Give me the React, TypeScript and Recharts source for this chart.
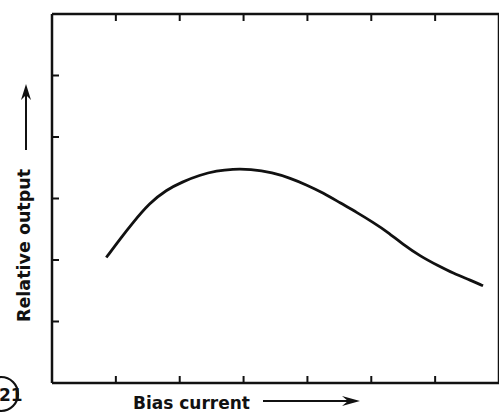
import React from "react";
import { LineChart, Line, XAxis, YAxis } from "recharts";

const biasCurrent = [0.85, 1.05, 1.26, 1.53, 1.79, 2.04, 2.31, 2.58, 2.83, 3.1, 3.46, 3.73, 3.99, 4.25, 4.51, 4.78, 5.03, 5.25, 5.5, 5.77, 6.04, 6.29, 6.56, 6.75];
const relativeOutput = [2.04, 2.32, 2.6, 2.93, 3.14, 3.27, 3.38, 3.45, 3.48, 3.48, 3.42, 3.33, 3.22, 3.09, 2.93, 2.77, 2.61, 2.46, 2.25, 2.06, 1.91, 1.78, 1.67, 1.58];
const xTicks = [1, 2, 3, 4, 5, 6];
const yTicks = [1, 2, 3, 4, 5];

const data = biasCurrent.map((x, i) => ({ x, y: relativeOutput[i] }));

const ink = "#111";
const font = "'DejaVu Sans', sans-serif";

const NoLabel = () => <g />;

const axisCommon = {
  tick: NoLabel,
  mirror: true,
  tickSize: 7,
  stroke: ink,
  strokeWidth: 2.5,
  axisLine: { stroke: ink, strokeWidth: 2.5 },
  tickLine: { stroke: ink, strokeWidth: 2 },
};

export default function App() {
  return (
    <div style={{ position: "absolute", left: 0, top: 0, width: 499, height: 416, background: "#fff" }}>
      <LineChart
        width={499}
        height={416}
        data={data}
        margin={{ top: 14, left: 52, right: 0, bottom: 33 }}
      >
        <XAxis
          dataKey="x"
          type="number"
          domain={[0, 7]}
          ticks={xTicks}
          height={1}
          {...axisCommon}
        />
        <XAxis
          xAxisId="top"
          orientation="top"
          dataKey="x"
          type="number"
          domain={[0, 7]}
          ticks={xTicks}
          height={1}
          {...axisCommon}
        />
        <YAxis
          type="number"
          domain={[0, 6]}
          ticks={yTicks}
          width={1}
          {...axisCommon}
        />
        <YAxis
          yAxisId="right"
          orientation="right"
          type="number"
          domain={[0, 6]}
          ticks={yTicks}
          width={1}
          {...axisCommon}
        />
        <Line
          dataKey="y"
          type="basis"
          stroke={ink}
          strokeWidth={2.8}
          dot={false}
          isAnimationActive={false}
        />
      </LineChart>
      <svg
        width={499}
        height={416}
        style={{ position: "absolute", left: 0, top: 0, pointerEvents: "none" }}
      >
        <text x={133} y={409} fontFamily={font} fontWeight="bold" fontSize={17} fill={ink}>
          Bias current
        </text>
        <line x1={263} y1={401} x2={356} y2={401} stroke={ink} strokeWidth={2} />
        <path d="M342,396 L360,401 L342,406 L348,401 Z" fill={ink} />
        <text
          x={0}
          y={0}
          transform="translate(30,322) rotate(-90)"
          fontFamily={font}
          fontWeight="bold"
          fontSize={17.5}
          fill={ink}
        >
          Relative output
        </text>
        <line x1={26} y1={150} x2={26} y2={88} stroke={ink} strokeWidth={2} />
        <path d="M21,100 L26,84 L31,100 L26,95 Z" fill={ink} />
        <circle cx={1} cy={394} r={17} fill="none" stroke={ink} strokeWidth={2.2} />
        <text x={-1} y={401} fontFamily={font} fontWeight="bold" fontSize={17} fill={ink}>
          21
        </text>
      </svg>
    </div>
  );
}
